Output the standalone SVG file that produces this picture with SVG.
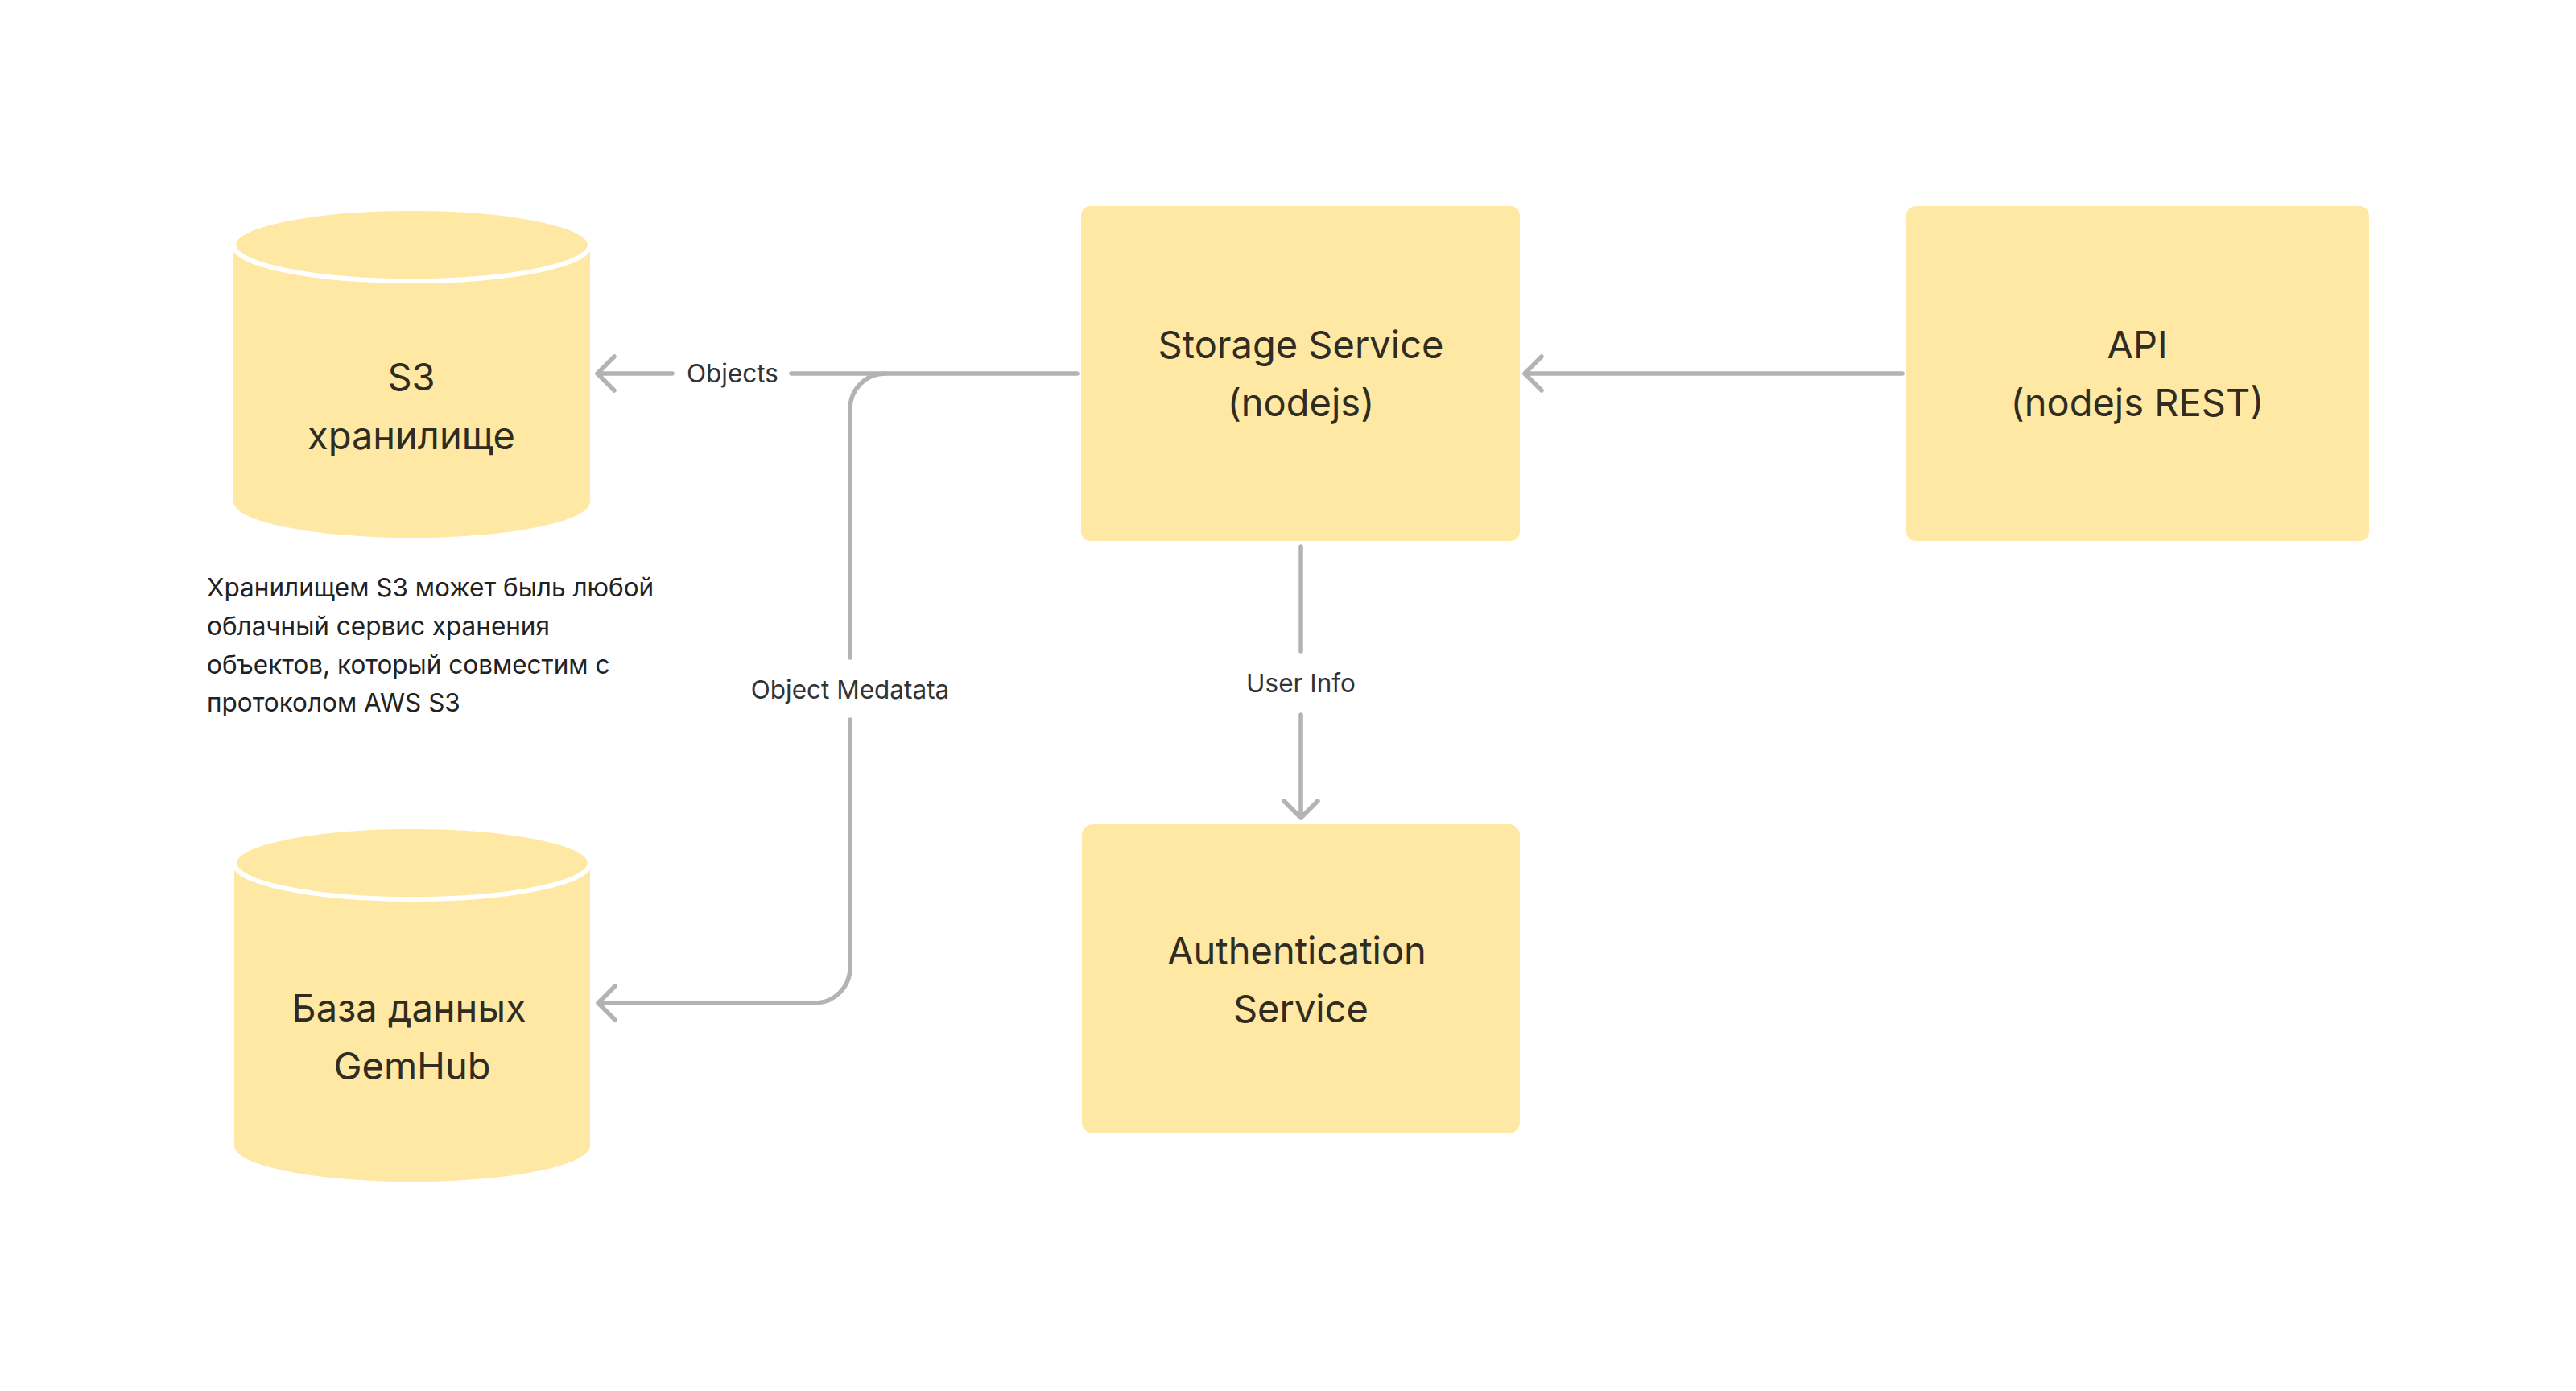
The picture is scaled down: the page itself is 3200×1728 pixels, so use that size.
<svg xmlns="http://www.w3.org/2000/svg" width="3200" height="1728" viewBox="0 0 3200 1728">
<style>
.node{fill:#FEE8A4}
.top{fill:#FEE8A4;stroke:#FFFFFF;stroke-width:6}
.title{font-family:Inter,"Noto Sans","Liberation Sans",sans-serif;font-size:47px;fill:#302C22;text-anchor:middle}
.label{font-family:Inter,"Noto Sans","Liberation Sans",sans-serif;font-size:31.5px;fill:#333333;text-anchor:middle}
.note{font-family:Inter,"Noto Sans","Liberation Sans",sans-serif;font-size:31.5px;fill:#222222}
.line{fill:none;stroke:#B3B3B3;stroke-width:5.5;stroke-linecap:round;stroke-linejoin:round}
</style>
<rect width="3200" height="1728" fill="#FFFFFF"/>
<g id="s3">
<path class="node" d="M290,304 V623 A221.5,45 0 0 0 733,623 V304 Z"/>
<ellipse class="top" cx="511.5" cy="304" rx="221.5" ry="45"/>
<text class="title" x="511" y="485">S3</text>
<text class="title" x="511" y="558">хранилище</text>
</g>
<g id="s3-note">
<text class="note" x="257" y="741">Хранилищем S3 может быль любой</text>
<text class="note" x="257" y="789">облачный сервис хранения</text>
<text class="note" x="257" y="837">объектов, который совместим с</text>
<text class="note" x="257" y="884">протоколом AWS S3</text>
</g>
<g id="db">
<path class="node" d="M291,1072 V1423 A221,45 0 0 0 733,1423 V1072 Z"/>
<ellipse class="top" cx="512" cy="1072" rx="221" ry="45"/>
<text class="title" x="508" y="1269">База данных</text>
<text class="title" x="512" y="1341">GemHub</text>
</g>
<g id="storage">
<rect class="node" x="1343" y="256" width="545" height="416" rx="12"/>
<text class="title" x="1616" y="445">Storage Service</text>
<text class="title" x="1616" y="517">(nodejs)</text>
</g>
<g id="api">
<rect class="node" x="2368" y="256" width="575" height="416" rx="12"/>
<text class="title" x="2655" y="445">API</text>
<text class="title" x="2655" y="517">(nodejs REST)</text>
</g>
<g id="auth">
<rect class="node" x="1344" y="1024" width="544" height="384" rx="14"/>
<text class="title" x="1611" y="1198">Authentication</text>
<text class="title" x="1616" y="1270">Service</text>
</g>
<g id="connectors">
<path class="line" d="M1338,464 H983"/>
<path class="line" d="M835,464 H742 M763,443 L742,464 L763,485"/>
<text class="label" x="910" y="475">Objects</text>
<path class="line" d="M1100,464 A44,44 0 0 0 1056,508 V817"/>
<path class="line" d="M1056,894 V1202 A44,44 0 0 1 1012,1246 H743 M764,1225 L743,1246 L764,1267"/>
<text class="label" x="1056" y="868">Object Medatata</text>
<path class="line" d="M1616,679 V809"/>
<path class="line" d="M1616,888 V1016 M1595,995 L1616,1016 L1637,995"/>
<text class="label" x="1616" y="860">User Info</text>
<path class="line" d="M2363,464 H1894 M1915,443 L1894,464 L1915,485"/>
</g>
</svg>
